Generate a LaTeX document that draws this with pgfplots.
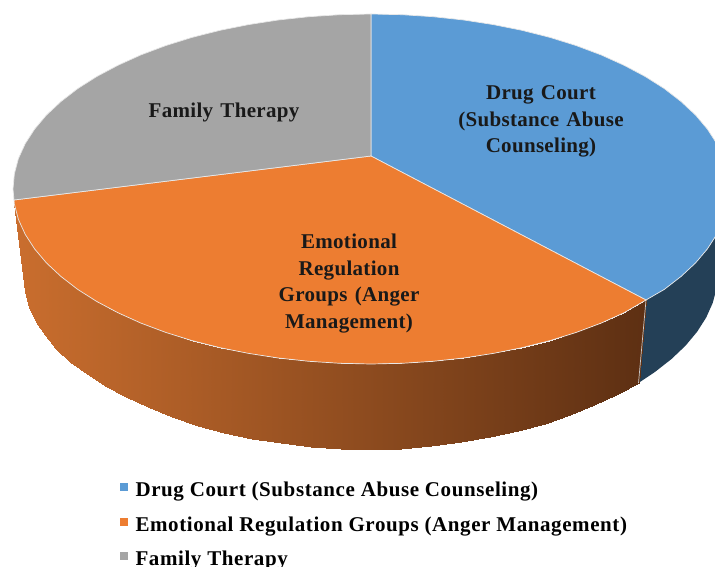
\documentclass[border=0pt]{standalone}
\usepackage{pgfplots}
\pgfplotsset{compat=1.18}
\usepgfplotslibrary{patchplots}
\usepackage{fontspec}
\setmainfont{Liberation Serif}
\newfontfamily\labfont[LetterSpace=1.5,WordSpace=1.3]{Liberation Serif}
\newfontfamily\legfont[LetterSpace=2.8]{Liberation Serif}
\definecolor{cblue}{RGB}{91,155,213}
\definecolor{corange}{RGB}{237,125,49}
\definecolor{cgray}{RGB}{165,165,165}
\definecolor{cdark}{RGB}{36,64,87}
\definecolor{cedge}{RGB}{232,232,232}
\newcommand{\lab}{\labfont\fontsize{21bp}{26.5bp}\selectfont\bfseries}
\newcommand{\leg}{\legfont\fontsize{21bp}{26.5bp}\selectfont\bfseries}
\begin{document}
\begin{tikzpicture}
\useasboundingbox (0,0) rectangle (715bp,567bp);
\begin{axis}[
  at={(0,0)},anchor=south west,
  width=715bp,height=567bp,scale only axis,
  xmin=0,xmax=715,ymin=0,ymax=567,y dir=reverse,
  axis lines=none,
  point meta min=14,point meta max=640,
  colormap={oside}{rgb255=(202,110,46) rgb255=(94,48,19)},
  legend style={at={(axis cs:120,480)},anchor=north west,draw=none,fill=none,
    font=\leg,cells={anchor=west},row sep=14.5bp,
    inner xsep=0pt,inner ysep=0pt},
  legend image code/.code={\fill[#1,draw=none] (0bp,-1bp) rectangle (8bp,7bp);\path (13bp,0bp);},
]
% dark blue side
\addplot[fill=cdark,draw=none,forget plot] coordinates {
(646,300)(664.3,289.4)(681,276.5)(695.5,263)(707.4,248.9)(716.8,234.3)(723.6,219.4)(727.6,204.3)(729,189)
(718,273)(716.7,288)(712.7,303)(706.2,317.5)(697.1,331.8)(685.5,345.7)(671.5,359)(655.3,371.7)(638.5,383)} -- cycle;
% orange side, gradient
\addplot[surf,shader=interp,mesh/rows=2,mesh/ordering=x varies,point meta=x,forget plot] coordinates {
(646,300)(624.1,312.7)(601.1,323.1)(576.3,332.4)(550,340.6)(522.3,347.6)(493.4,353.4)(463.7,358)(433.1,361.3)(402.2,363.3)(371,364)(339.8,363.3)(308.9,361.3)(278.3,358)(248.6,353.4)(219.7,347.6)(192,340.6)(165.7,332.4)(140.9,323.1)(117.9,312.7)(96.8,301.5)(77.7,289.4)(61,276.5)(46.5,263)(34.6,248.9)(25.2,234.3)(18.4,219.4)(14.4,204.3)(14,200)

(638.5,383)(616.4,394.6)(594.1,405.3)(570,414.9)(544.5,423.5)(517.6,430.9)(489.7,437.1)(460.8,442.1)(431.2,445.9)(401.3,448.9)(371,449.5)(340.7,449.2)(310.8,446.6)(281.2,443.3)(252.3,438.6)(224.4,432.9)(197.5,426)(172,417)(147.9,407.3)(125.6,396.6)(105.2,385.6)(86.7,373.7)(70.5,361.5)(56.5,348.7)(44.9,335.3)(35.8,321.5)(29.3,306.9)(25.3,292)(24,277)
};
% seam between the sides
\addplot[cedge!70!gray,line width=0.7bp,forget plot] coordinates {(646,300)(638.5,383)};
% top faces
\addplot[fill=cblue,draw=cedge,line width=0.7bp] coordinates {
(371,156)(371,14)(402.2,14.7)(433.1,16.7)(463.7,20)(493.4,24.6)(522.3,30.4)(550,37.4)(576.3,45.6)(601.1,54.9)(624.1,65.3)(645.2,76.5)(664.3,88.6)(681,101.5)(695.5,115)(707.4,129.1)(716.8,143.7)(723.6,158.6)(727.6,173.7)(729,189)(727.6,204.3)(723.6,219.4)(716.8,234.3)(707.4,248.9)(695.5,263)(681,276.5)(664.3,289.4)(646,300)} -- cycle;
\addlegendentry{Drug Court (Substance Abuse Counseling)}
\addplot[fill=corange,draw=cedge,line width=0.7bp] coordinates {
(371,156)(646,300)(624.1,312.7)(601.1,323.1)(576.3,332.4)(550,340.6)(522.3,347.6)(493.4,353.4)(463.7,358)(433.1,361.3)(402.2,363.3)(371,364)(339.8,363.3)(308.9,361.3)(278.3,358)(248.6,353.4)(219.7,347.6)(192,340.6)(165.7,332.4)(140.9,323.1)(117.9,312.7)(96.8,301.5)(77.7,289.4)(61,276.5)(46.5,263)(34.6,248.9)(25.2,234.3)(18.4,219.4)(14.4,204.3)(14,200)} -- cycle;
\addlegendentry{Emotional Regulation Groups (Anger Management)}
\addplot[fill=cgray,draw=cedge,line width=0.7bp] coordinates {
(371,156)(14,200)(13,189)(14.4,173.7)(18.4,158.6)(25.2,143.7)(34.6,129.1)(46.5,115)(61,101.5)(77.7,88.6)(96.8,76.5)(117.9,65.3)(140.9,54.9)(165.7,45.6)(192,37.4)(219.7,30.4)(248.6,24.6)(278.3,20)(308.9,16.7)(339.8,14.7)(371,14)} -- cycle;
\addlegendentry{Family Therapy}
\node[align=center,font=\lab,text=black!90] at (axis cs:541,121.5) {Drug Court\\(Substance Abuse\\Counseling)};
\node[align=center,font=\lab,text=black!90] at (axis cs:224,112.5) {Family Therapy};
\node[align=center,font=\lab,text=black!90] at (axis cs:349,283.5) {Emotional\\Regulation\\Groups (Anger\\Management)};
\end{axis}
\end{tikzpicture}
\end{document}
